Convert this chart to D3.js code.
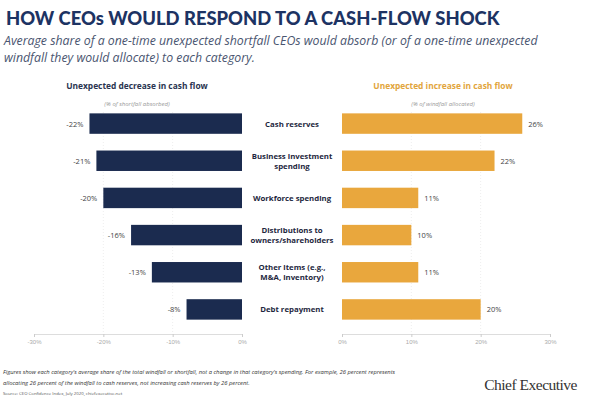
<!DOCTYPE html>
<html><head><meta charset="utf-8">
<script src="https://cdn.jsdelivr.net/npm/d3@7"></script>
<style>body{margin:0;background:#fff;font-family:"Open Sans",sans-serif;}</style>
</head><body><div class="chart"></div>
<script>
const categories = ["Cash reserves", "Business investment|spending", "Workforce spending", "Distributions to|owners/shareholders", "Other items (e.g.,|M&A, inventory)", "Debt repayment"];
const decrease = [-22, -21, -20, -16, -13, -8];
const increase = [26, 22, 11, 10, 11, 20];
const leftTicks = [-30, -20, -10, 0];
const rightTicks = [0, 10, 20, 30];

const width = 590, height = 410;
const navy = "#1b2b4f", orange = "#e9a73d", titleColor = "#1d3363";

const svg = d3.select(".chart").append("svg")
    .attr("width", width).attr("height", height);

svg.append("text").attr("x", 6).attr("y", 25)
    .attr("font-size", 18.4).attr("font-weight", 900).attr("fill", titleColor)
    .attr("font-family", "Lato").text("HOW CEOs WOULD RESPOND TO A CASH-FLOW SHOCK");
["Average share of a one-time unexpected shortfall CEOs would absorb (or of a one-time unexpected",
 "windfall they would allocate) to each category."].forEach((t, i) =>
    svg.append("text").attr("x", 4).attr("y", 45 + i * 17)
        .attr("font-size", 12.3).attr("font-style", "italic").attr("fill", "#4a5570").text(t));

const xL = d3.scaleLinear().domain([-30, 0]).range([34, 242]);
const xR = d3.scaleLinear().domain([0, 30]).range([342, 550]);
const y = d3.scaleBand().domain(d3.range(categories.length)).range([105, 328])
    .paddingInner(0.45).paddingOuter(0.225);
const axisY = 334;

// headers
[[137, "Unexpected decrease in cash flow", "(% of shortfall absorbed)", "#2a3450"],
 [443, "Unexpected increase in cash flow", "(% of windfall allocated)", "#e2a53c"]].forEach(([cx, h, s, c]) => {
    svg.append("text").attr("x", cx).attr("y", 89).attr("text-anchor", "middle")
        .attr("font-size", 8.4).attr("font-weight", 700).attr("fill", c).text(h);
    svg.append("text").attr("x", cx).attr("y", 106).attr("text-anchor", "middle")
        .attr("font-size", 6).attr("font-style", "italic").attr("fill", "#999").text(s);
});

// grid
[[xL, [-20, -10]], [xR, [10, 20]]].forEach(([sc, ts]) =>
    svg.selectAll(null).data(ts).join("line")
        .attr("x1", d => sc(d)).attr("x2", d => sc(d))
        .attr("y1", 112).attr("y2", axisY)
        .attr("stroke", "#eee").attr("stroke-dasharray", "1,2"));

// axes
const styleAxis = g => {
    g.select(".domain").attr("stroke", "#ddd");
    g.selectAll(".tick line").attr("stroke", "#ccc");
    g.selectAll(".tick text").attr("fill", "#aaa").attr("font-size", 6);
};
svg.append("g").attr("transform", `translate(0,${axisY})`)
    .call(d3.axisBottom(xL).tickValues(leftTicks).tickSize(3).tickFormat(d => d + "%")).call(styleAxis);
svg.append("g").attr("transform", `translate(0,${axisY})`)
    .call(d3.axisBottom(xR).tickValues(rightTicks).tickSize(3).tickFormat(d => d + "%")).call(styleAxis);

// bars
svg.selectAll(".dec").data(decrease).join("rect")
    .attr("x", d => xL(d)).attr("width", d => xL(0) - xL(d))
    .attr("y", (d, i) => y(i)).attr("height", y.bandwidth()).attr("fill", navy);
svg.selectAll(".decl").data(decrease).join("text")
    .attr("x", d => xL(d) - 6).attr("y", (d, i) => y(i) + y.bandwidth() / 2 + 3)
    .attr("text-anchor", "end").attr("font-size", 7.5).attr("fill", "#444").text(d => d + "%");
svg.selectAll(".inc").data(increase).join("rect")
    .attr("x", xR(0)).attr("width", d => xR(d) - xR(0))
    .attr("y", (d, i) => y(i)).attr("height", y.bandwidth()).attr("fill", orange);
svg.selectAll(".incl").data(increase).join("text")
    .attr("x", d => xR(d) + 6).attr("y", (d, i) => y(i) + y.bandwidth() / 2 + 3)
    .attr("font-size", 7.5).attr("fill", "#444").text(d => d + "%");

// category labels
categories.forEach((c, i) => {
    const lines = c.split("|");
    const cy = y(i) + y.bandwidth() / 2;
    lines.forEach((l, j) => svg.append("text").attr("x", 292)
        .attr("y", cy + 3 + (j - (lines.length - 1) / 2) * 10)
        .attr("text-anchor", "middle").attr("font-size", 7.8).attr("font-weight", 700)
        .attr("fill", "#1e2740").text(l));
});

// footnote
["Figures show each category's average share of the total windfall or shortfall, not a change in that category's spending. For example, 26 percent represents",
 "allocating 26 percent of the windfall to cash reserves, not increasing cash reserves by 26 percent."].forEach((t, i) =>
    svg.append("text").attr("x", 3).attr("y", 374 + i * 11).attr("font-size", 5.8)
        .attr("font-style", "italic").attr("fill", "#333").text(t));
svg.append("text").attr("x", 3).attr("y", 395).attr("font-size", 4.3).attr("fill", "#555")
    .text("Source: CEO Confidence Index, July 2020, chiefexecutive.net");
svg.append("text").attr("x", 577).attr("y", 390).attr("text-anchor", "end")
    .attr("font-family", "Liberation Serif").attr("font-size", 15.5).attr("fill", "#333")
    .attr("letter-spacing", -0.5).text("Chief Executive");
</script></body></html>
